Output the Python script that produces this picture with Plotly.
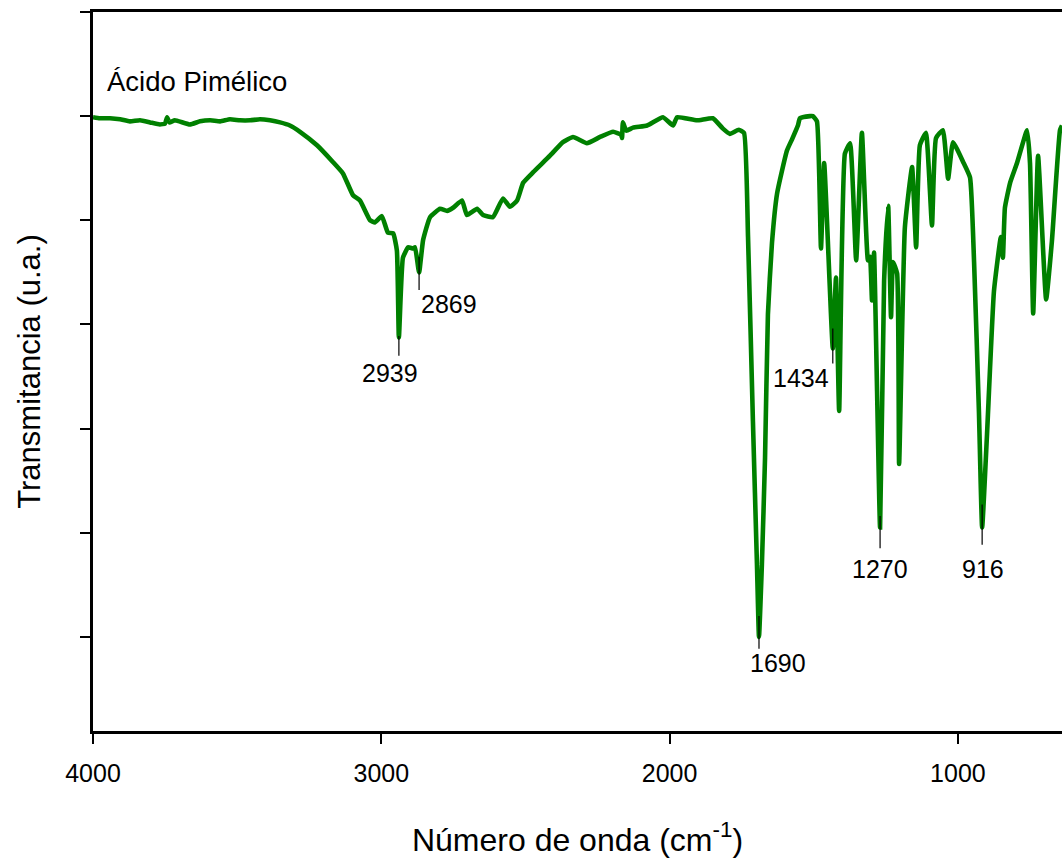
import plotly.graph_objects as go

# Wavenumber (cm-1) and transmittance (arbitrary units)
wavenumber = [
    4000, 3976, 3941, 3906, 3872, 3837, 3802, 3768, 3750, 3743, 3735, 3716, 3664, 3629,
    3594, 3559, 3525, 3490, 3455, 3421, 3386, 3351, 3317, 3282, 3223, 3168, 3133, 3098,
    3074, 3039, 3022, 2998, 2977, 2959, 2946, 2939, 2925, 2907, 2890, 2883, 2869, 2855,
    2831, 2796, 2772, 2751, 2720, 2703, 2668, 2647, 2613, 2578, 2554, 2529, 2508, 2474,
    2415, 2370, 2335, 2287, 2241, 2196, 2168, 2165, 2162, 2150, 2127, 2078, 2023, 1988,
    1974, 1905, 1850, 1815, 1791, 1760, 1742, 1728, 1711, 1697, 1690, 1680, 1669, 1659,
    1645, 1627, 1593, 1575, 1555, 1548, 1513, 1503, 1489, 1475, 1464, 1434, 1423, 1412,
    1392, 1374, 1353, 1333, 1312, 1305, 1298, 1291, 1270, 1256, 1242, 1232, 1225, 1211,
    1204, 1184, 1159, 1145, 1132, 1111, 1090, 1076, 1052, 1034, 1017, 982, 958, 944,
    927, 916, 899, 875, 851, 844, 837, 819, 795, 760, 750, 739, 722, 694, 674, 646, 639,
]
transmittance = [
    59.9, 59.8, 59.8, 59.7, 59.5, 59.6, 59.4, 59.2, 59.3, 59.9, 59.4, 59.6, 59.2, 59.5,
    59.6, 59.5, 59.7, 59.6, 59.6, 59.7, 59.6, 59.4, 59.1, 58.5, 57.2, 55.6, 54.5, 52.4,
    51.9, 50.0, 49.8, 50.4, 48.8, 48.75, 47.1, 38.75, 46.4, 47.4, 47.3, 47.4, 45.0, 48.1,
    50.3, 51.1, 50.9, 51.2, 51.9, 50.5, 51.1, 50.5, 50.3, 52.1, 51.3, 51.9, 53.6, 54.6,
    56.2, 57.5, 58.0, 57.4, 58.0, 58.5, 58.2, 57.9, 59.4, 58.6, 58.9, 59.1, 59.9, 59.1,
    59.9, 59.6, 59.8, 58.8, 58.3, 58.7, 58.4, 48.4, 30.7, 16.9, 10.0, 16.9, 27.2, 41.0,
    47.8, 52.6, 56.7, 57.8, 59.1, 59.8, 60.0, 60.0, 59.5, 47.3, 55.5, 37.7, 44.5, 31.7,
    56.4, 57.4, 46.15, 58.4, 46.15, 46.5, 42.3, 46.9, 20.5, 44.2, 51.4, 40.7, 46.0, 44.9,
    26.6, 49.3, 55.1, 47.4, 57.2, 58.4, 49.5, 57.9, 58.65, 54.0, 57.5, 55.6, 54.1, 46.0,
    31.5, 20.5, 29.5, 43.2, 48.4, 46.4, 51.2, 53.6, 55.5, 58.65, 55.5, 41.05, 56.2, 42.4,
    48.0, 58.65, 59.1,
]

# Peak labels
peak_wn = [2939, 2869, 1690, 1434, 1270, 916]
peak_text = ["2939", "2869", "1690", "1434", "1270", "916"]
tick_top = [38.9, 46.5, 12.0, 39.6, 21.6, 22.7]
tick_bottom = [37.0, 43.3, 8.85, 36.25, 18.5, 18.85]
label_y = [35.3, 42.0, 7.5, 34.9, 16.5, 16.5]
label_anchor = ["center", "left", "left", "right", "center", "center"]
label_shift = [-9, 0, -11, -2, 0, 1]

sample_name = "Ácido Pimélico"
x_ticks = [4000, 3000, 2000, 1000]
y_ticks = [10, 20, 30, 40, 50, 60, 70]

FONT = "Liberation Sans, Arial, sans-serif"

fig = go.Figure()
fig.add_trace(go.Scatter(
    x=wavenumber, y=transmittance, mode="lines",
    line=dict(color="#008000", width=4.6, shape="spline", smoothing=0.4),
    hoverinfo="x+y", showlegend=False,
))

for wn, txt, t0, t1, ly, anc, sh in zip(peak_wn, peak_text, tick_top, tick_bottom,
                                        label_y, label_anchor, label_shift):
    fig.add_shape(type="line", xref="x", yref="y", x0=wn, x1=wn, y0=t0, y1=t1,
                  line=dict(color="black", width=1.2))
    fig.add_annotation(x=wn, y=ly, xref="x", yref="y", text=txt, showarrow=False,
                       xanchor=anc, yanchor="middle", xshift=sh,
                       font=dict(family=FONT, size=25, color="black"))

fig.add_annotation(x=3958, y=63.3, xref="x", yref="y", text=sample_name,
                   showarrow=False, xanchor="left", yanchor="middle",
                   font=dict(family=FONT, size=27.5, color="black"))

fig.update_layout(
    width=1062, height=861,
    margin=dict(l=93, r=0, t=12, b=130),
    paper_bgcolor="white", plot_bgcolor="white",
    font=dict(family=FONT, color="black"),
    xaxis=dict(
        range=[4000, 639], tickvals=x_ticks, ticks="outside", ticklen=10,
        tickwidth=2, tickcolor="black", showline=True, linewidth=2.5,
        linecolor="black", mirror=True, showgrid=False, zeroline=False,
        tickfont=dict(family=FONT, size=25, color="black"),
        ticklabelstandoff=8,
        title=dict(text="Número de onda (cm<sup>-1</sup>)", standoff=43,
                   font=dict(family=FONT, size=32, color="black")),
    ),
    yaxis=dict(
        range=[0.96, 70], tickvals=y_ticks, ticks="outside", ticklen=10,
        tickwidth=2, tickcolor="black", showline=True, linewidth=2.5,
        linecolor="black", showticklabels=False, showgrid=False, zeroline=False,
        title=dict(text="Transmitancia (u.a.)", standoff=31,
                   font=dict(family=FONT, size=31, color="black")),
    ),
)

# Remove the default 8 px page margin so the figure fills the window exactly.
fig.write_html(
    "out.html",
    config={"displayModeBar": False},
    post_script="document.body.style.margin='0';document.body.style.overflow='hidden';",
)
